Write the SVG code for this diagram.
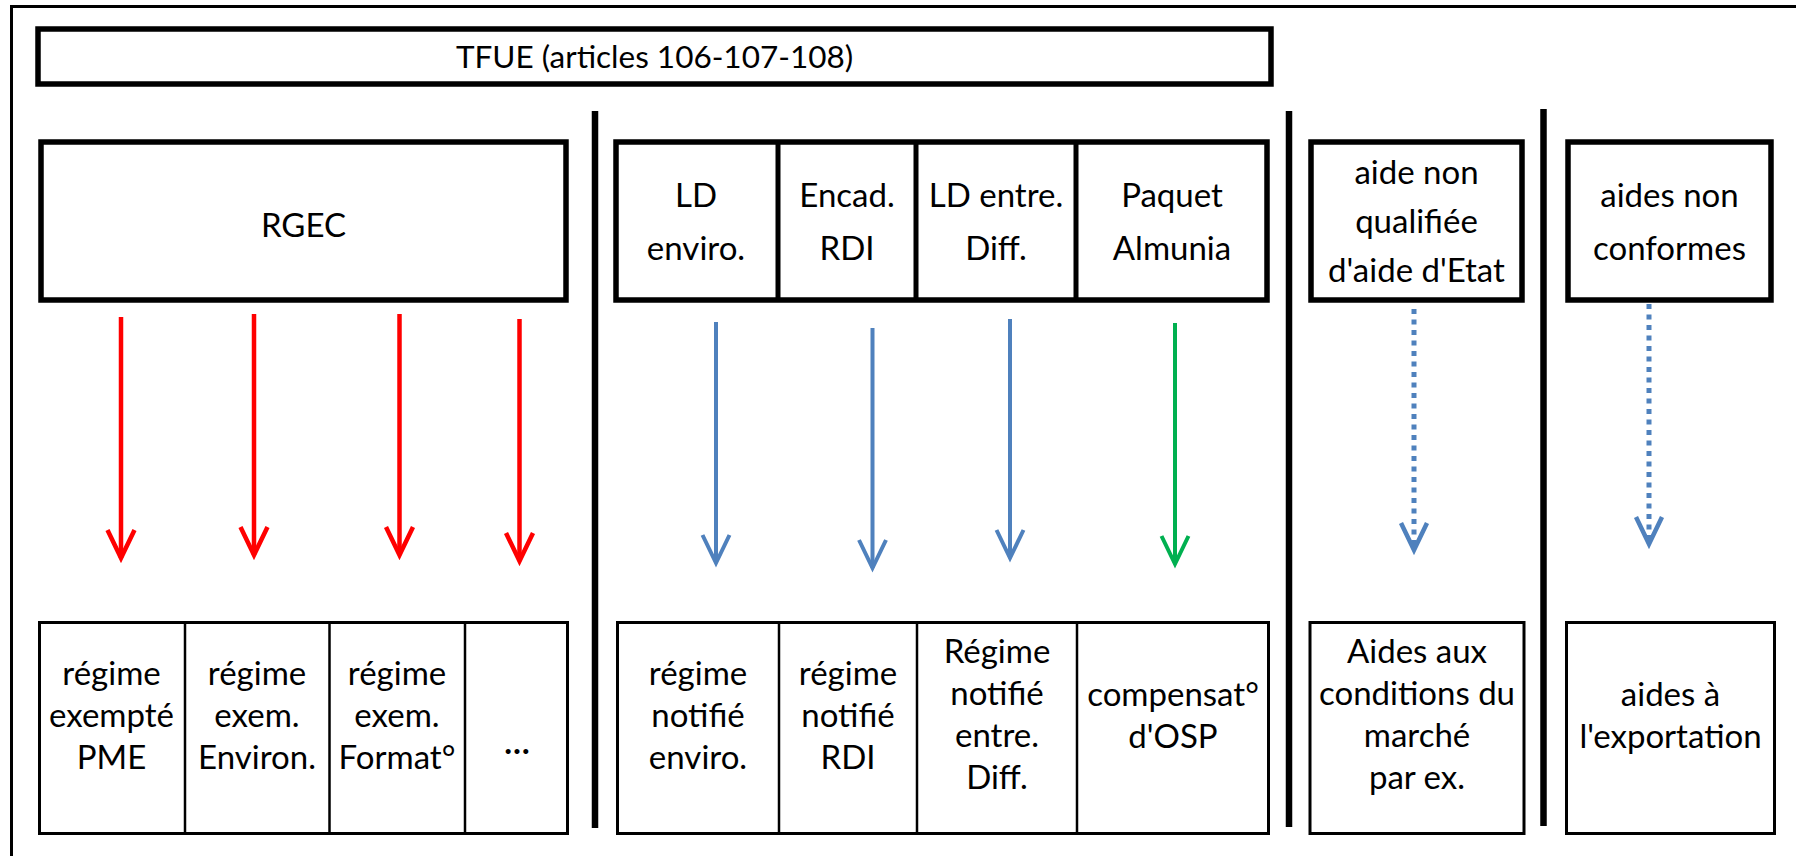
<svg xmlns="http://www.w3.org/2000/svg" width="1796" height="856" viewBox="0 0 1796 856">
  <defs>
    <style>
      .frame { fill: none; stroke: #000; stroke-width: 3; }
      .box-top { fill: #fff; stroke: #000; stroke-width: 5.5; }
      .div-top { stroke: #000; stroke-width: 5; }
      .box-bot { fill: #fff; stroke: #000; stroke-width: 3; }
      .div-bot { stroke: #000; stroke-width: 2.5; }
      .sep { stroke: #000; stroke-width: 6.5; }
      text { font-family: Lato, "Liberation Sans", sans-serif; font-size: 33px; fill: #000; text-anchor: middle; }
      .title { font-size: 31.5px; }
      .red { stroke: #FF0000; stroke-width: 4.5; fill: none; }
      .blue { stroke: #4F81BD; stroke-width: 4; fill: none; }
      .green { stroke: #00B050; stroke-width: 4; fill: none; }
      .dotted { stroke: #4F81BD; stroke-width: 5; stroke-dasharray: 5 5.5; fill: none; }
    </style>
    <marker id="arrRed" markerUnits="userSpaceOnUse" orient="auto" markerWidth="60" markerHeight="60" refX="0" refY="0" overflow="visible">
      <path d="M -28 -13.5 L 0 0 L -28 13.5" fill="none" stroke="#FF0000" stroke-width="4.5" stroke-linejoin="miter"/>
    </marker>
    <marker id="arrBlue" markerUnits="userSpaceOnUse" orient="auto" markerWidth="60" markerHeight="60" refX="0" refY="0" overflow="visible">
      <path d="M -28 -13.5 L 0 0 L -28 13.5" fill="none" stroke="#4F81BD" stroke-width="4" stroke-linejoin="miter"/>
    </marker>
    <marker id="arrGreen" markerUnits="userSpaceOnUse" orient="auto" markerWidth="60" markerHeight="60" refX="0" refY="0" overflow="visible">
      <path d="M -28 -13.5 L 0 0 L -28 13.5" fill="none" stroke="#00B050" stroke-width="4" stroke-linejoin="miter"/>
    </marker>
    <marker id="arrDot" markerUnits="userSpaceOnUse" orient="auto" markerWidth="60" markerHeight="60" refX="0" refY="0" overflow="visible">
      <path d="M -27 -13 L 0 0 L -27 13" fill="none" stroke="#4F81BD" stroke-width="4.5" stroke-linejoin="miter"/>
    </marker>
  </defs>

  <rect width="1796" height="856" fill="#fff"/>
  <path class="frame" d="M 11.5 870 V 6.5 H 1810"/>

  <g id="separators">
    <line class="sep" x1="595" y1="111" x2="595" y2="828"/>
    <line class="sep" x1="1289" y1="111" x2="1289" y2="827"/>
    <line class="sep" x1="1543.5" y1="109" x2="1543.5" y2="826"/>
  </g>

  <g id="tfue">
    <rect class="box-top" x="38" y="29" width="1233" height="55"/>
    <text class="title" x="654.5" y="68">TFUE (articles 106-107-108)</text>
  </g>

  <g id="rgec">
    <rect class="box-top" x="41" y="142" width="525" height="158"/>
    <text x="303.5" y="237">RGEC</text>
  </g>

  <g id="lignes-directrices">
    <rect class="box-top" x="616" y="142" width="651" height="158"/>
    <line class="div-top" x1="778" y1="142" x2="778" y2="300"/>
    <line class="div-top" x1="916" y1="142" x2="916" y2="300"/>
    <line class="div-top" x1="1076" y1="142" x2="1076" y2="300"/>
    <g id="ld-enviro"><text x="696" y="207">LD</text><text x="696" y="260">enviro.</text></g>
    <g id="encad-rdi"><text x="847" y="207">Encad.</text><text x="847" y="260">RDI</text></g>
    <g id="ld-entre-diff"><text x="996" y="207">LD entre.</text><text x="996" y="260">Diff.</text></g>
    <g id="paquet-almunia"><text x="1172" y="207">Paquet</text><text x="1172" y="260">Almunia</text></g>
  </g>

  <g id="aide-non-qualifiee">
    <rect class="box-top" x="1311" y="142" width="211" height="158"/>
    <text x="1416.5" y="184">aide non</text>
    <text x="1416.5" y="233">qualifiée</text>
    <text x="1416.5" y="282">d'aide d'Etat</text>
  </g>

  <g id="aides-non-conformes">
    <rect class="box-top" x="1568" y="142" width="203" height="158"/>
    <text x="1669.5" y="207">aides non</text>
    <text x="1669.5" y="260">conformes</text>
  </g>

  <g id="connectors">
    <line class="red" x1="121" y1="317" x2="121" y2="558" marker-end="url(#arrRed)"/>
    <line class="red" x1="254" y1="314" x2="254" y2="555" marker-end="url(#arrRed)"/>
    <line class="red" x1="399.5" y1="314" x2="399.5" y2="555" marker-end="url(#arrRed)"/>
    <line class="red" x1="519.5" y1="319" x2="519.5" y2="561" marker-end="url(#arrRed)"/>
    <line class="blue" x1="716" y1="322" x2="716" y2="563" marker-end="url(#arrBlue)"/>
    <line class="blue" x1="872.5" y1="328" x2="872.5" y2="568" marker-end="url(#arrBlue)"/>
    <line class="blue" x1="1010" y1="319" x2="1010" y2="558" marker-end="url(#arrBlue)"/>
    <line class="green" x1="1175" y1="323" x2="1175" y2="564" marker-end="url(#arrGreen)"/>
    <line class="dotted" x1="1414" y1="309" x2="1414" y2="550" marker-end="url(#arrDot)"/>
    <line class="dotted" x1="1649" y1="304" x2="1649" y2="544" marker-end="url(#arrDot)"/>
  </g>

  <g id="regimes-exemptes">
    <rect class="box-bot" x="39.5" y="622.5" width="528" height="211"/>
    <line class="div-bot" x1="185" y1="622.5" x2="185" y2="833.5"/>
    <line class="div-bot" x1="329.5" y1="622.5" x2="329.5" y2="833.5"/>
    <line class="div-bot" x1="465" y1="622.5" x2="465" y2="833.5"/>
    <g id="exempte-pme"><text x="111.5" y="685">régime</text><text x="111.5" y="727">exempté</text><text x="111.5" y="769">PME</text></g>
    <g id="exem-environ"><text x="257" y="685">régime</text><text x="257" y="727">exem.</text><text x="257" y="769">Environ.</text></g>
    <g id="exem-format"><text x="397" y="685">régime</text><text x="397" y="727">exem.</text><text x="397" y="769">Format°</text></g>
    <g id="etc"><text x="517" y="754" font-size="40" font-weight="bold">…</text></g>
  </g>

  <g id="regimes-notifies">
    <rect class="box-bot" x="617.5" y="622.5" width="651" height="211"/>
    <line class="div-bot" x1="779" y1="622.5" x2="779" y2="833.5"/>
    <line class="div-bot" x1="917" y1="622.5" x2="917" y2="833.5"/>
    <line class="div-bot" x1="1077" y1="622.5" x2="1077" y2="833.5"/>
    <g id="notifie-enviro"><text x="698" y="685">régime</text><text x="698" y="727">notifié</text><text x="698" y="769">enviro.</text></g>
    <g id="notifie-rdi"><text x="848" y="685">régime</text><text x="848" y="727">notifié</text><text x="848" y="769">RDI</text></g>
    <g id="notifie-entre-diff"><text x="997" y="663">Régime</text><text x="997" y="705">notifié</text><text x="997" y="747">entre.</text><text x="997" y="789">Diff.</text></g>
    <g id="compensation-osp"><text x="1173" y="706">compensat°</text><text x="1173" y="748">d'OSP</text></g>
  </g>

  <g id="aides-conditions-marche">
    <rect class="box-bot" x="1310" y="622.5" width="214" height="211"/>
    <text x="1417" y="663">Aides aux</text>
    <text x="1417" y="705">conditions du</text>
    <text x="1417" y="747">marché</text>
    <text x="1417" y="789">par ex.</text>
  </g>

  <g id="aides-exportation">
    <rect class="box-bot" x="1566.5" y="622.5" width="208" height="211"/>
    <text x="1670.5" y="706">aides à</text>
    <text x="1670.5" y="748">l'exportation</text>
  </g>
</svg>
